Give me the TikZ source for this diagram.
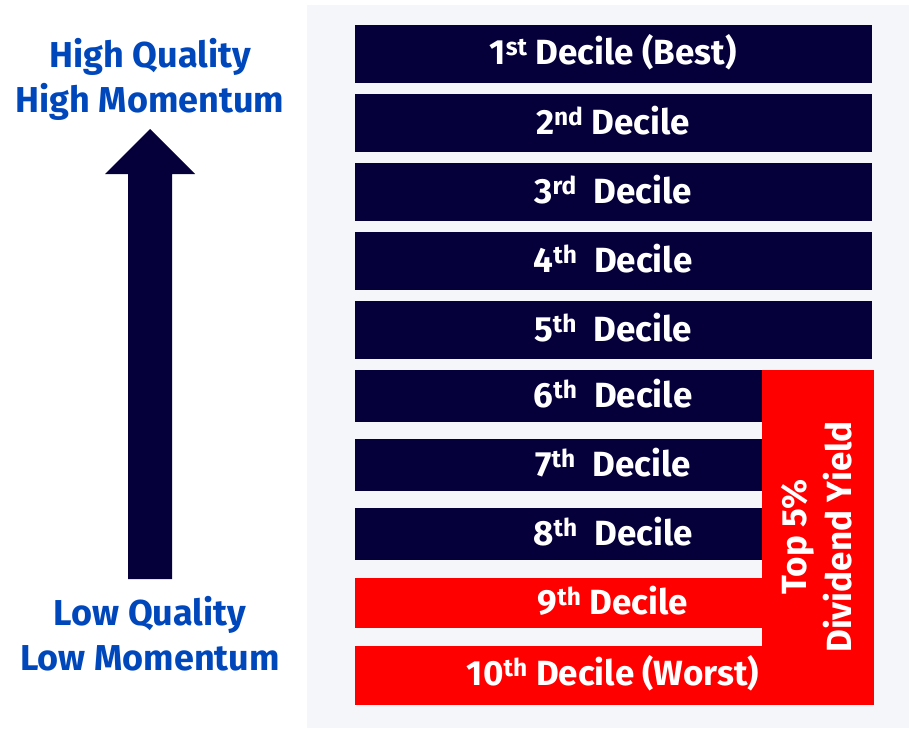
\documentclass[tikz,border=0pt]{standalone}
\usepackage{fontspec}
\setmainfont{Fira Sans}
\definecolor{navy}{HTML}{05003A}
\definecolor{qred}{HTML}{FF0000}
\definecolor{qblue}{HTML}{0047BB}
\definecolor{panel}{HTML}{F5F6F9}
\newcommand{\sups}[1]{\textsuperscript{#1}}
\begin{document}
\begin{tikzpicture}[x=1pt,y=-1pt,
  lbl/.style={text=white,font=\bfseries\fontsize{35}{40}\selectfont,inner sep=0pt},
  side/.style={text=qblue,font=\bfseries\fontsize{36}{45}\selectfont,align=center,inner sep=0pt},
  vlbl/.style={text=white,font=\bfseries\fontsize{35}{45}\selectfont,align=center,inner sep=0pt,rotate=90}]
\useasboundingbox (0,0) rectangle (909,728);
\fill[white] (0,0) rectangle (909,728);
\fill[panel] (307,5) rectangle (909,728);
% dark bars
\foreach \t in {25,94,163,232,301}
  \fill[navy] (355,\t) rectangle (872,\t+58);
\foreach \t in {370,439,508}
  \fill[navy] (355,\t) rectangle (762,\t+52);
% red shapes
\fill[qred] (355,578) rectangle (762,628);
\fill[qred] (355,646) rectangle (874,705);
\fill[qred] (762,370) rectangle (874,705);
% labels
\node[lbl] (d1) at (613,52) {1\sups{st} Decile (Best)};
\node[lbl] (d2) at (613,121) {2\sups{nd} Decile};
\node[lbl] (d3) at (613,190) {3\sups{rd}\ \ Decile};
\node[lbl] (d4) at (613,259) {4\sups{th}\ \ Decile};
\node[lbl] (d5) at (613,328) {5\sups{th}\ \ Decile};
\node[lbl] (d6) at (613,394) {6\sups{th}\ \ Decile};
\node[lbl] (d7) at (613,463) {7\sups{th}\ \ Decile};
\node[lbl] (d8) at (613,532) {8\sups{th}\ \ Decile};
\node[lbl] (d9) at (613,601) {9\sups{th} Decile};
\node[lbl] (d10) at (613,673) {10\sups{th} Decile (Worst)};
\node[vlbl] (dy) at (817,537) {Top 5\%\\Dividend Yield};
% arrow
\fill[navy] (128,579) -- (128,174) -- (105,174) -- (150,129) -- (195,174) -- (172,174) -- (172,579) -- cycle;
\node[side] (hi) at (150,79) {High Quality\\High Momentum};
\node[side] (lo) at (150,634) {Low Quality\\Low Momentum};
\end{tikzpicture}
\end{document}
